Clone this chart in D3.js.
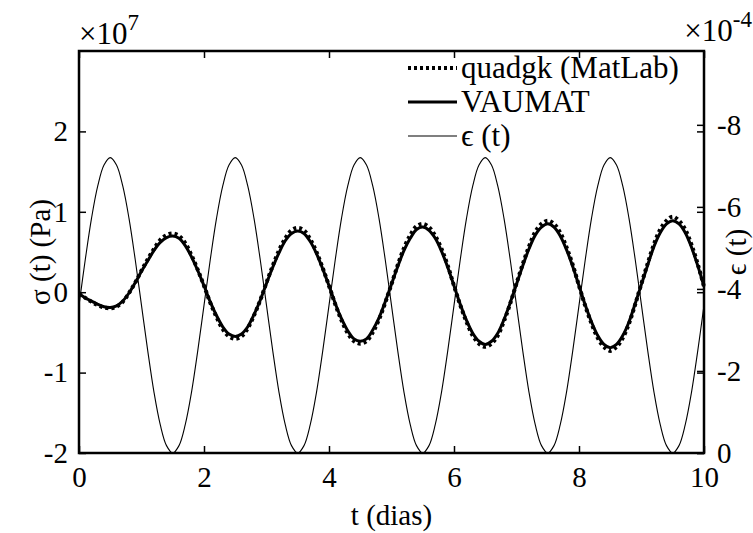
<!DOCTYPE html>
<html><head><meta charset="utf-8">
<script src="https://cdn.jsdelivr.net/npm/d3@7"></script>
<style>
html,body{margin:0;padding:0;background:#fff;}
svg{display:block;}
</style></head>
<body>
<svg id="c" width="753" height="533"></svg>
<script>
// time samples (days)
const tDays = [0.0,0.1,0.2,0.3,0.4,0.5,0.6,0.7,0.8,0.9,1.0,1.1,1.2,1.3,1.4,1.5,1.6,1.7,1.8,1.9,2.0,2.1,2.2,2.3,2.4,2.5,2.6,2.7,2.8,2.9,3.0,3.1,3.2,3.3,3.4,3.5,3.6,3.7,3.8,3.9,4.0,4.1,4.2,4.3,4.4,4.5,4.6,4.7,4.8,4.9,5.0,5.1,5.2,5.3,5.4,5.5,5.6,5.7,5.8,5.9,6.0,6.1,6.2,6.3,6.4,6.5,6.6,6.7,6.8,6.9,7.0,7.1,7.2,7.3,7.4,7.5,7.6,7.7,7.8,7.9,8.0,8.1,8.2,8.3,8.4,8.5,8.6,8.7,8.8,8.9,9.0,9.1,9.2,9.3,9.4,9.5,9.6,9.7,9.8,9.9,10.0];
// stress, VAUMAT (x1e7 Pa)
const sigmaVaumat = [-0.02,-0.07,-0.11,-0.15,-0.18,-0.19,-0.17,-0.11,-0.01,0.12,
 0.26,0.39,0.52,0.62,0.68,0.70,0.67,0.58,0.44,0.27,
 0.08,-0.12,-0.29,-0.43,-0.52,-0.55,-0.52,-0.43,-0.28,-0.10,
 0.11,0.31,0.49,0.64,0.73,0.76,0.73,0.63,0.48,0.29,
 0.08,-0.14,-0.33,-0.48,-0.58,-0.61,-0.58,-0.47,-0.32,-0.12,
 0.10,0.32,0.52,0.67,0.78,0.81,0.77,0.67,0.51,0.31,
 0.08,-0.15,-0.35,-0.51,-0.61,-0.65,-0.61,-0.51,-0.34,-0.13,
 0.10,0.33,0.54,0.71,0.81,0.85,0.81,0.70,0.53,0.32,
 0.08,-0.16,-0.37,-0.54,-0.65,-0.69,-0.65,-0.54,-0.37,-0.14,
 0.10,0.34,0.57,0.74,0.85,0.89,0.85,0.74,0.56,0.33,
 0.07];
// stress, quadgk MatLab (x1e7 Pa)
const sigmaQuadgk = [-0.02,-0.07,-0.12,-0.16,-0.19,-0.20,-0.18,-0.12,-0.01,0.12,
 0.27,0.41,0.54,0.65,0.71,0.73,0.70,0.61,0.46,0.28,
 0.08,-0.13,-0.31,-0.46,-0.55,-0.58,-0.55,-0.45,-0.29,-0.10,
 0.12,0.33,0.52,0.67,0.77,0.80,0.77,0.66,0.50,0.30,
 0.08,-0.15,-0.35,-0.51,-0.61,-0.64,-0.61,-0.50,-0.34,-0.13,
 0.10,0.34,0.55,0.71,0.82,0.85,0.81,0.70,0.54,0.33,
 0.08,-0.16,-0.37,-0.54,-0.64,-0.68,-0.64,-0.54,-0.36,-0.14,
 0.11,0.35,0.57,0.75,0.85,0.89,0.85,0.74,0.56,0.34,
 0.08,-0.17,-0.39,-0.57,-0.68,-0.73,-0.68,-0.57,-0.39,-0.15,
 0.11,0.36,0.60,0.78,0.89,0.94,0.89,0.78,0.59,0.35,
 0.07];
// strain (x1e-4)
const strain = [-3.60,-4.71,-5.72,-6.51,-7.02,-7.20,-7.02,-6.51,-5.72,-4.71,
 -3.60,-2.49,-1.48,-0.69,-0.18,0.00,-0.18,-0.69,-1.48,-2.49,
 -3.60,-4.71,-5.72,-6.51,-7.02,-7.20,-7.02,-6.51,-5.72,-4.71,
 -3.60,-2.49,-1.48,-0.69,-0.18,0.00,-0.18,-0.69,-1.48,-2.49,
 -3.60,-4.71,-5.72,-6.51,-7.02,-7.20,-7.02,-6.51,-5.72,-4.71,
 -3.60,-2.49,-1.48,-0.69,-0.18,0.00,-0.18,-0.69,-1.48,-2.49,
 -3.60,-4.71,-5.72,-6.51,-7.02,-7.20,-7.02,-6.51,-5.72,-4.71,
 -3.60,-2.49,-1.48,-0.69,-0.18,0.00,-0.18,-0.69,-1.48,-2.49,
 -3.60,-4.71,-5.72,-6.51,-7.02,-7.20,-7.02,-6.51,-5.72,-4.71,
 -3.60,-2.49,-1.48,-0.69,-0.18,0.00,-0.18,-0.69,-1.48,-2.49,
 -3.60];
const xTicks = [0,2,4,6,8,10];
const yLeftTicks = [-2,-1,0,1,2];
const yRightTicks = [0,-2,-4,-6,-8];
const legendLabels = ["quadgk (MatLab)","VAUMAT","\u03f5 (t)"];

const svg = d3.select("#c");
const L=79, R=704, T=51, B=453;
const x = d3.scaleLinear().domain([0,10]).range([L,R]);
const yL = d3.scaleLinear().domain([-2,3]).range([B,T]);
const yR = d3.scaleLinear().domain([0,-9.8]).range([B,T]);
const FS = 29;
const FF = "Liberation Serif, Tinos, Times New Roman, Times, Nimbus Roman, FreeSerif, Noto Serif, DejaVu Serif, serif";
const fmt = d => String(d);

// curves
const g = svg.append("g");
const lineL = d3.line().x((d,i)=>x(tDays[i])).y(d=>yL(d)).curve(d3.curveCatmullRom);
const lineR = d3.line().x((d,i)=>x(tDays[i])).y(d=>yR(d)).curve(d3.curveCatmullRom);
g.append("path").attr("d",lineR(strain)).attr("fill","none").attr("stroke","#000").attr("stroke-width",1.1);
g.append("path").attr("d",lineL(sigmaQuadgk)).attr("fill","none").attr("stroke","#000").attr("stroke-width",4).attr("stroke-dasharray","3,3");
g.append("path").attr("d",lineL(sigmaVaumat)).attr("fill","none").attr("stroke","#000").attr("stroke-width",3);

// axes
const tl = 7;
const axB = d3.axisBottom(x).tickValues(xTicks).tickSizeInner(-tl).tickSizeOuter(0).tickPadding(13).tickFormat(fmt);
const axT = d3.axisTop(x).tickValues(xTicks).tickSizeInner(-tl).tickSizeOuter(0).tickFormat("");
const axL = d3.axisLeft(yL).tickValues(yLeftTicks).tickSizeInner(-tl).tickSizeOuter(0).tickPadding(11).tickFormat(fmt);
const axLm = d3.axisRight(yL).tickValues(yLeftTicks).tickSizeInner(-tl).tickSizeOuter(0).tickFormat("");
const axR = d3.axisRight(yR).tickValues(yRightTicks).tickSizeInner(-tl).tickSizeOuter(0).tickPadding(13).tickFormat(fmt);

function style(sel){
  sel.attr("font-family",FF).attr("font-size",FS);
  sel.select(".domain").remove();
  sel.selectAll("line").attr("stroke","#000").attr("stroke-width",1.5);
  sel.selectAll("text").attr("fill","#000");
}
svg.append("g").attr("transform",`translate(0,${B})`).call(axB).call(style);
svg.append("g").attr("transform",`translate(0,${T})`).call(axT).call(style);
svg.append("g").attr("transform",`translate(${L},0)`).call(axL).call(style);
svg.append("g").attr("transform",`translate(${R},0)`).call(axLm).call(style);
svg.append("g").attr("transform",`translate(${R},0)`).call(axR).call(style);

svg.append("rect").attr("x",L).attr("y",T).attr("width",R-L).attr("height",B-T)
  .attr("fill","none").attr("stroke","#000").attr("stroke-width",2.5);

const tg = svg.append("g").attr("font-family",FF).attr("font-size",FS).attr("fill","#000");

// exponents
const e1 = tg.append("text").attr("x",L).attr("y",T-7).attr("font-size",FS+2);
e1.append("tspan").text("\u00d710");
e1.append("tspan").attr("dy",-14).attr("font-size",FS-6).text("7");
const e2 = tg.append("text").attr("x",752).attr("y",T-10).attr("text-anchor","end").attr("font-size",FS+2);
e2.append("tspan").text("\u00d710");
e2.append("tspan").attr("dy",-14).attr("font-size",FS-6).text("-4");

// axis labels
tg.append("text").attr("x",(L+R)/2).attr("y",B+72).attr("text-anchor","middle").text("t (dias)");
tg.append("text").attr("transform",`translate(50,${(T+B)/2}) rotate(-90)`).attr("text-anchor","middle").text("\u03c3 (t) (Pa)");
tg.append("text").attr("transform",`translate(746,${(T+B)/2}) rotate(-90)`).attr("text-anchor","middle").text("\u03f5 (t)");

// legend
const lg = tg.append("g").attr("font-size",31);
const rowY = [68,102,136];
const styles = [{w:4,d:"3,3"},{w:3,d:null},{w:1.1,d:null}];
legendLabels.forEach((lab,i)=>{
  const ln = lg.append("line").attr("x1",408).attr("x2",457).attr("y1",rowY[i]).attr("y2",rowY[i])
    .attr("stroke","#000").attr("stroke-width",styles[i].w);
  if(styles[i].d) ln.attr("stroke-dasharray",styles[i].d);
  lg.append("text").attr("x",461).attr("y",rowY[i]).attr("dy","0.33em").text(lab);
});
</script>
</body></html>
